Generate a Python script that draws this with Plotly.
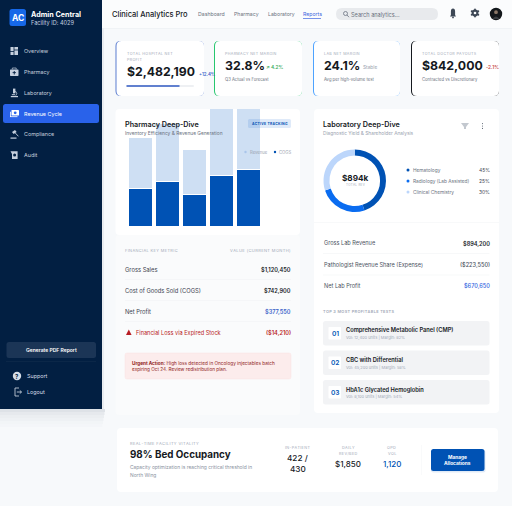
import plotly.graph_objects as go

W, H = 512, 506

# pharmacy bars ($k-ish units)
bar_cats = ['A', 'B', 'C', 'D', 'E']
cogs = [38, 44.5, 32, 51, 57]
revenue = [51, 58, 44.5, 75, 80]
bar_ymax = 117

# lab donut
lab_labels = ['Hematology', 'Radiology (Lab Assisted)', 'Clinical Chemistry']
lab_shares = [45, 25, 30]
lab_colors = ['#0052b4', '#0a6cf0', '#bcd6fb']

nav_items = ['Overview', 'Pharmacy', 'Laboratory', 'Revenue Cycle', 'Compliance', 'Audit']
top_links = ['Dashboard', 'Pharmacy', 'Laboratory', 'Reports']
pharm_rows = [('Gross Sales', '$1,120,450'), ('Cost of Goods Sold (COGS)', '$742,900'),
              ('Net Profit', '$377,550')]
lab_rows = [('Gross Lab Revenue', '$894,200'), ('Pathologist Revenue Share (Expense)', '($223,550)'),
            ('Net Lab Profit', '$670,650')]
top_tests = [('01', 'Comprehensive Metabolic Panel (CMP)', 'Vol: 12,400 units | Margin: 82%'),
             ('02', 'CBC with Differential', 'Vol: 45,200 units | Margin: 58%'),
             ('03', 'HbA1c Glycated Hemoglobin', 'Vol: 8,100 units | Margin: 54%')]

NAVY = '#021f42'
BLUE = '#0052b4'
INK = '#15191e'
GREY = '#6b7280'
PALE = '#a3aab8'
FONT = 'Inter'

fig = go.Figure()
shapes = []
notes = []


def rrect(x0, y0, x1, y1, r, fill, line=None, lw=1, layer='below'):
    p = (f'M{x0+r},{y0} L{x1-r},{y0} Q{x1},{y0} {x1},{y0+r} L{x1},{y1-r} Q{x1},{y1} {x1-r},{y1} '
         f'L{x0+r},{y1} Q{x0},{y1} {x0},{y1-r} L{x0},{y0+r} Q{x0},{y0} {x0+r},{y0} Z')
    shapes.append(dict(type='path', path=p, fillcolor=fill, xref='x', yref='y', layer=layer,
                       line=dict(color=line or 'rgba(0,0,0,0)', width=lw if line else 0)))


def rect(x0, y0, x1, y1, fill, layer='below'):
    shapes.append(dict(type='rect', x0=x0, y0=y0, x1=x1, y1=y1, fillcolor=fill, xref='x', yref='y',
                       layer=layer, line=dict(width=0)))


def dot(cx, cy, r, fill, layer='below'):
    shapes.append(dict(type='circle', x0=cx-r, y0=cy-r, x1=cx+r, y1=cy+r, fillcolor=fill, xref='x', yref='y',
                       layer=layer, line=dict(width=0)))


def path(p, fill='rgba(0,0,0,0)', line=None, lw=1, layer='below'):
    shapes.append(dict(type='path', path=p, fillcolor=fill, xref='x', yref='y', layer=layer,
                       line=dict(color=line or 'rgba(0,0,0,0)', width=lw if line else 0)))


def text(x, y, s, size=6, color=INK, anchor='left', weight=400, family=FONT):
    notes.append(dict(x=x, y=y, xref='x', yref='y', text=s, showarrow=False, xanchor=anchor, yanchor='middle',
                      align=anchor, font=dict(family=family, size=size, color=color, weight=weight),
                      borderpad=0, borderwidth=0))


def spaced(s):
    # tracked-out caps labels
    return '\u200a'.join(s)


# page background
rect(0, 0, W, H, '#f7f9fb')

# topbar
rect(102, 0, W, 28, '#fbfcfd')
rect(102, 28, W, 28.6, '#e9edf1')
text(112, 14, 'Clinical Analytics Pro', 7.5, INK, weight=500)
for name, x in zip(top_links, [198, 234, 268, 303]):
    text(x, 14, name, 5.2, '#3f66e0' if name == 'Reports' else '#6b7280')
rect(303, 18, 321, 18.7, '#3f66e0')
rrect(336, 8, 438, 20, 6, '#e8eaed')
shapes.append(dict(type='circle', x0=343.5, y0=11.5, x1=347.5, y1=15.5, xref='x', yref='y',
                   layer='below', line=dict(color='#6b7280', width=0.8)))
path('M347,15 L349,17.2', line='#6b7280', lw=0.8)
text(350.5, 14, 'Search analytics...', 5.6, '#6b7280')
# bell
path('M450,16.6 L450.9,15 L450.9,11.5 Q450.9,8.6 453,8.6 Q455.1,8.6 455.1,11.5 L455.1,15 L456,16.6 Z', fill='#3e4856')
dot(453, 17.4, 0.9, '#3e4856')
# gear
dot(475, 13, 3.4, '#3e4856')
for dx, dy in [(0, -3.6), (0, 3.6), (-3.3, -1.8), (3.3, -1.8), (-3.3, 1.8), (3.3, 1.8)]:
    dot(475 + dx, 13 + dy, 0.95, '#3e4856')
dot(475, 13, 1.3, '#fbfcfd')
# avatar
dot(496, 14, 6.2, '#14181c')
dot(496, 12.2, 1.9, '#8b7768')
path('M492.5,19 Q496,14 499.5,19 Z', fill='#3b3f44')

# sidebar, with its soft shadow
for i, alpha in enumerate([0.10, 0.07, 0.05, 0.035, 0.02, 0.012]):
    rect(0, 409 + i * 3, 102 + 3 - i * 0.5, 409 + (i + 1) * 3, f'rgba(10,30,60,{alpha})')
rect(102, 28.6, 104, 409, 'rgba(10,30,60,0.06)')
rect(0, 0, 102, 409, NAVY)
rrect(9.5, 9, 26, 26, 2.5, '#1668e8')
text(17.7, 17.8, 'AC', 8.5, 'white', 'center', 700)
text(30.5, 14, 'Admin Central', 7.2, 'white', weight=700)
text(30.5, 22, 'Facility ID: 4029', 5.6, '#c3cfe0')

nav_ys = [51, 72, 93, 114, 134.5, 155]
rrect(3, 104, 99, 123, 2.5, '#2962ea')
for name, y in zip(nav_items, nav_ys):
    active = name == 'Revenue Cycle'
    text(24, y, name, 5.4, 'white' if active else '#c6d0de')
    ic = 'white' if active else '#c6d0de'
    if name == 'Overview':
        rect(10.5, y - 4, 13.6, y + 0.2, ic)
        rect(14.4, y - 4, 18, y - 1.4, ic)
        rect(10.5, y + 1, 13.6, y + 4, ic)
        rect(14.4, y - 0.6, 18, y + 4, ic)
    elif name == 'Pharmacy':
        rrect(10, y - 2.6, 18.5, y + 4, 0.7, ic)
        path(f'M12.3,{y-2.6} L12.3,{y-4} L16.2,{y-4} L16.2,{y-2.6}', line=ic, lw=0.7)
        rect(13.8, y - 1, 14.7, y + 2.4, NAVY)
        rect(12.6, y + 0.2, 15.9, y + 1.1, NAVY)
    elif name == 'Laboratory':
        path(f'M13,{y-4.4} L15.4,{y-4.4} L15.4,{y+0.4} L13,{y+0.4} Z', fill=ic)
        path(f'M15.4,{y-2} Q18,{y+0.5} 15.8,{y+2.6}', line=ic, lw=0.8)
        rect(10.8, y + 3, 18, y + 4.2, ic)
        rect(11.8, y + 1.2, 15, y + 2.2, ic)
    elif name == 'Revenue Cycle':
        rrect(11.5, y - 4, 19, y + 1.5, 0.6, 'white')
        rect(10, y - 2.2, 10.8, y + 3, 'white')
        rect(10, y + 2.3, 17.5, y + 3.1, 'white')
        dot(15.2, y - 1.2, 1.4, '#2962ea')
    elif name == 'Compliance':
        path(f'M12,{y-2.4} L15,{y-4.6} L16.6,{y-2.6} L13.6,{y-0.4} Z', fill=ic)
        path(f'M15,{y-1.8} L18.4,{y+1.8}', line=ic, lw=0.9)
        rect(10.5, y + 3, 16.5, y + 4.2, ic)
    elif name == 'Audit':
        path(f'M10.5,{y-3.8} L17.6,{y-3.8} L17.6,{y+3.9} L12,{y+3.9} L12,{y-1} Z', fill=ic)
        dot(14.6, y, 1.5, NAVY)

rrect(6.5, 342, 96, 358, 2.5, '#1b3556')
text(51, 350, 'Generate PDF Report', 5, 'white', 'center', 600)
rect(6, 361.3, 96, 361.8, '#14304f')
dot(17, 376, 4.2, '#d6dde7')
text(17, 376, '?', 6, NAVY, 'center', 700)
text(27, 376, 'Support', 5.4, '#d6dde7')
path('M19,388 L15,388 L15,396 L19,396', line='#d6dde7', lw=0.8)
path('M16.8,392 L21.5,392 M19.8,390.4 L21.5,392 L19.8,393.6', line='#d6dde7', lw=0.8)
text(27, 392, 'Logout', 5.4, '#d6dde7')

# KPI cards
kpis = [
    (115.5, 204, '#5b7dd0', ['TOTAL HOSPITAL NET', 'PROFIT'], '$2,482,190', '+12.4%', '#3b63c9', None),
    (214, 302, '#28c76f', ['PHARMACY NET MARGIN'], '32.8%', '↗ 4.2%', '#3fae62', 'Q3 Actual vs Forecast'),
    (313, 400, '#4ea3ff', ['LAB NET MARGIN'], '24.1%', 'Stable', '#9aa3af', 'Avg per high-volume test'),
    (411, 499, '#15191e', ['TOTAL DOCTOR PAYOUTS'], '$842,000', '-2.1%', '#c8494a', 'Contracted vs Discretionary'),
]
for x0, x1, col, label, value, delta, dcol, sub in kpis:
    rrect(x0, 41, x1, 96, 5, col)
    rrect(x0 + 1, 41, x1, 96, 5, 'white')
    for i, line in enumerate(label):
        text(x0 + 11, 53.5 + i * 6, spaced(line), 3.7, PALE)
    if sub:
        text(x0 + 11, 65.8, value, 12.3, INK, weight=700)
        dx = {'32.8%': 41, '24.1%': 39, '$842,000': 64}[value]
        text(x0 + 11 + dx, 66.8, delta, 4.8, dcol, weight=400 if delta == 'Stable' else 600)
        text(x0 + 11, 79, sub, 4.2, GREY)
    else:
        text(x0 + 11, 71.5, value, 12.2, INK, weight=700)
        text(199, 74, delta, 4.4, dcol, weight=600)
        rrect(x0 + 11, 85, 194, 87, 1, '#eef0f3')
        rect(x0 + 11, 85, 179.5, 87, '#6180cf')

# pharmacy card
rrect(115.5, 109, 300, 235, 4, 'white')
rrect(115.5, 235, 300, 415, 4, '#fafbfc')
text(125, 124.5, 'Pharmacy Deep-Dive', 7.2, INK, weight=600)
text(125, 133.3, 'Inventory Efficiency &amp; Revenue Generation', 4.85, GREY)
rrect(248, 119, 291, 128, 1.5, 'rgba(11,92,205,0.13)', layer='above')
text(269.5, 123.5, spaced('ACTIVE TRACKING'), 3.4, BLUE, 'center', 700)
dot(245.5, 152, 1.2, '#a9c5ea', 'above')
text(249.5, 152, 'Revenue', 4.2, '#98a1ae')
dot(275, 152, 1.2, BLUE, 'above')
text(279, 152, 'COGS', 4.2, '#98a1ae')

# pharmacy table
text(125, 250, spaced('FINANCIAL KEY METRIC'), 3.95, PALE)
text(291, 250, spaced('VALUE (CURRENT MONTH)'), 4.05, PALE, 'right')
row_ys = [269.5, 290.5, 311.5]
for (name, val), y in zip(pharm_rows, row_ys):
    text(125, y, name, 5.8, '#3d4451')
    text(291, y, val, 5.6, '#3b63c9' if name == 'Net Profit' else INK, 'right', 600)
    rect(125, y + 10, 291, y + 10.4, '#f0f2f4')
path('M128.8,329.5 L131.6,335 L126,335 Z', fill='#b81d24')
text(136, 332.8, 'Financial Loss via Expired Stock', 5.6, '#b81d24')
text(291, 332.8, '($14,210)', 5.6, '#b81d24', 'right', 600)
rrect(125, 353, 291, 379, 2, '#fcecec', line='#f9dede', lw=0.4)
text(132, 362.8, '<b>Urgent Action:</b> High loss detected in Oncology injectables batch', 4.7, '#8f1d22')
text(132, 369.3, 'expiring Oct 24. Review redistribution plan.', 4.7, '#8f1d22')

# laboratory card
rrect(314, 109, 499, 413, 4, 'white')
text(323, 124.5, 'Laboratory Deep-Dive', 7.2, INK, weight=600)
text(323, 133.3, 'Diagnostic Yield &amp; Shareholder Analysis', 4.8, '#9aa3af')
path('M461,123 L469,123 L466,127 L466,129 L464,129 L464,127 Z', fill='#c3c8cf')
for dy in (-2.4, 0, 2.4):
    dot(482.5, 126 + dy, 0.55, '#5c6673')
text(355, 178, '$894k', 8.2, INK, 'center', 700)
text(355, 185, spaced('TOTAL REV'), 3, PALE, 'center')
for (lab, share, col), y in zip(zip(lab_labels, lab_shares, lab_colors), [170, 181, 192]):
    dot(408, y, 1.5, col)
    text(413, y, lab, 4.8, GREY)
    text(489.5, y, f'{share}%', 4.9, '#3d4451', 'right')
rect(314, 222, 499, 222.5, '#f1f3f5')
for (name, val), y in zip(lab_rows, [243, 264.5, 285]):
    text(323.5, y, name, 5.6, '#4b5260')
    c = '#2f62e0' if name == 'Net Lab Profit' else ('#4b5260' if val.startswith('(') else INK)
    text(489.5, y, val, 5.6, c, 'right', 600 if name == 'Gross Lab Revenue' else 500)
    if name != 'Net Lab Profit':
        rect(323, y + 10.3, 489.5, y + 10.7, '#f0f2f4')
text(323, 311.5, spaced('TOP 3 MOST PROFITABLE TESTS'), 3.9, PALE, weight=600)
for (num, name, sub), y0 in zip(top_tests, [321, 350.5, 380]):
    rrect(323, y0, 489.5, y0 + 24.5, 2.5, '#f2f3f5')
    rrect(328.5, y0 + 6, 341, y0 + 18.5, 0.8, 'white')
    text(335, y0 + 12.5, num, 6.6, BLUE, 'center', 600)
    text(346, y0 + 9, name, 5.7, INK, weight=600)
    text(346, y0 + 16.5, sub, 4, PALE)

# bottom strip
rrect(117, 428, 498, 492, 4, 'white')
text(130, 443.5, spaced('REAL-TIME FACILITY VITALITY'), 4, PALE)
text(130, 454.8, '98% Bed Occupancy', 9.8, INK, weight=700)
text(130, 466.8, 'Capacity optimization is reaching critical threshold in', 4.9, '#8a92a0')
text(130, 475, 'North Wing', 4.9, '#8a92a0')
text(297.5, 447.7, spaced('IN-PATIENT'), 3.8, PALE, 'center')
text(297.5, 458.2, '422 /', 8.2, INK, 'center', 500)
text(297.5, 469.2, '430', 8.2, INK, 'center', 500)
text(348, 447.7, spaced('DAILY'), 3.8, PALE, 'center')
text(348, 453.5, spaced('REV/BED'), 3.8, PALE, 'center')
text(348, 464, '$1,850', 8, INK, 'center', 500)
text(391.5, 447.7, spaced('OPD'), 3.8, PALE, 'center')
text(391.5, 453.5, spaced('VOL'), 3.8, PALE, 'center')
text(391.5, 464, '1,120', 8, BLUE, 'center', 500)
rect(421, 445, 421.4, 475, '#f0f2f4')
rrect(431, 450, 485.5, 472.5, 2.5, 'rgba(0,82,180,0.12)')
rrect(431, 449, 484.5, 471, 2.5, BLUE)
text(457.8, 457, 'Manage', 4.8, 'white', 'center', 700)
text(457.8, 463.2, 'Allocations', 4.8, 'white', 'center', 700)

# pharmacy stacked bars, on their own axes over the card
fig.add_trace(go.Bar(x=bar_cats, y=cogs, name='COGS', marker=dict(color=BLUE, line=dict(color='white', width=1)),
                     xaxis='x2', yaxis='y2', showlegend=False))
fig.add_trace(go.Bar(x=bar_cats, y=revenue, name='Revenue', marker=dict(color='#cedff3', line=dict(color='white', width=1)),
                     xaxis='x2', yaxis='y2', showlegend=False))

# lab donut
fig.add_trace(go.Pie(labels=lab_labels, values=lab_shares, hole=0.81, sort=False, direction='clockwise',
                     marker=dict(colors=lab_colors), textinfo='none', showlegend=False,
                     domain=dict(x=[323.5 / W, 386 / W], y=[1 - 212 / H, 1 - 149.5 / H])))

fig.update_layout(
    width=W, height=H, autosize=False, margin=dict(l=0, r=0, t=0, b=0), paper_bgcolor='#f7f9fb',
    plot_bgcolor='rgba(0,0,0,0)', barmode='stack', bargap=0.12, shapes=shapes, annotations=notes,
    xaxis=dict(range=[0, W], domain=[0, 1], visible=False, fixedrange=True),
    yaxis=dict(range=[H, 0], domain=[0, 1], visible=False, fixedrange=True),
    xaxis2=dict(domain=[126.4 / W, 262.6 / W], visible=False, anchor='y2'),
    yaxis2=dict(domain=[1 - 226 / H, 1 - 109 / H], range=[0, bar_ymax], visible=False, anchor='x2'),
)

fig.write_html('out.html', config=dict(displayModeBar=False),
               post_script="document.body.style.margin='0';document.body.style.overflow='hidden';")
